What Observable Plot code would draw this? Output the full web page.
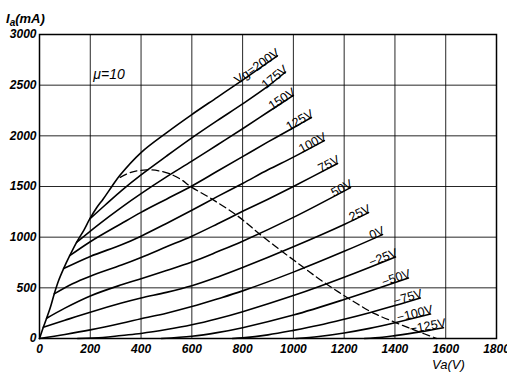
<!DOCTYPE html>
<html><head><meta charset="utf-8">
<script src="https://cdn.jsdelivr.net/npm/d3@7"></script>
<script src="https://cdn.jsdelivr.net/npm/@observablehq/plot@0.6"></script>
<style>body{margin:0;background:#fff}</style>
</head><body><div id="chart"></div>
<script>
// Axis ticks
const xTicks = [0,200,400,600,800,1000,1200,1400,1600,1800];
const yTicks = [0,500,1000,1500,2000,2500,3000];

// Anode characteristics: [Va (V), Ia (mA)]
const vg200 = [[0,0],[6,45],[15,110],[28,200],[42,300],[58,440],[75,570],[95,690],[119,817],[146,949],[175,1070],[198,1180],[225,1290],[251,1377],[285,1500],[316,1608],[400,1835],[500,2030],[600,2210],[700,2380],[800,2550],[937,2790]];
const vg175 = [[198,1180],[260,1320],[323,1460],[400,1615],[500,1800],[600,1980],[700,2150],[800,2315],[900,2490],[969,2630]];
const vg150 = [[146,949],[230,1120],[323,1295],[400,1430],[500,1595],[600,1750],[700,1910],[800,2070],[900,2235],[1000,2400]];
const vg125 = [[119,817],[200,955],[323,1135],[400,1245],[500,1375],[600,1505],[700,1650],[800,1795],[900,1940],[1000,2080],[1071,2181]];
const vg100 = [[95,690],[200,810],[323,925],[400,1010],[500,1135],[600,1265],[700,1400],[800,1530],[900,1665],[1000,1790],[1122,1953]];
const vg75  = [[58,440],[130,540],[200,615],[323,725],[400,800],[500,905],[600,1010],[700,1130],[800,1255],[900,1375],[1000,1500],[1174,1727]];
const vg50  = [[28,200],[100,300],[200,420],[323,530],[400,590],[500,670],[600,755],[700,855],[800,960],[1000,1195],[1225,1489]];
const vg25  = [[15,110],[100,180],[200,260],[323,350],[400,400],[500,455],[600,520],[700,605],[800,700],[1000,905],[1200,1125],[1296,1242]];
const vg0   = [[0,0],[100,40],[200,85],[323,150],[400,195],[500,250],[600,315],[700,390],[800,470],[1000,655],[1200,860],[1351,1025]];
const vgm25 = [[150,0],[250,10],[323,30],[400,50],[500,88],[600,135],[700,195],[800,265],[1000,424],[1200,605],[1402,805]];
const vgm50 = [[480,0],[600,22],[700,58],[800,107],[1000,231],[1200,385],[1453,597]];
const vgm75 = [[760,0],[800,6],[900,36],[1000,80],[1100,130],[1200,190],[1300,255],[1400,325],[1500,400]];
const vgm100 = [[1010,0],[1100,20],[1200,55],[1300,100],[1400,155],[1540,241]];
const vgm125 = [[1280,0],[1350,12],[1400,28],[1500,65],[1591,106]];

// Dashed limit curve
const limitCurve = [[318,1590],[360,1640],[421,1664],[470,1655],[513,1625],[560,1565],[595,1500],[680,1375],[780,1210],[870,1025],[950,870],[1030,720],[1100,590],[1180,455],[1250,345],[1320,245],[1400,160],[1480,80],[1565,0]];

const curveLabels = ["Vg=200V","175V","150V","125V","100V","75V","50V","25V","0V","\u221225V","\u221250V","\u221275V","\u2212100V","\u2212125V"];
const curveSeries = [vg200,vg175,vg150,vg125,vg100,vg75,vg50,vg25,vg0,vgm25,vgm50,vgm75,vgm100,vgm125];
const muNote = {text:"\u03bc=10", va:212, ia:2610};

const W = 507, H = 376, mL = 39, mR = 11, mT = 34, mB = 38;
const kx = (W - mL - mR) / 1800, ky = (H - mT - mB) / 3000;

const lineData = curveSeries.flatMap((pts, i) => pts.map(([va, ia]) => ({vg: curveLabels[i], va, ia})));
const dashData = limitCurve.map(([va, ia]) => ({va, ia}));
const labelData = curveSeries.map((pts, i) => {
  const n = pts.length;
  const [x1, y1] = pts[n - 2], [x2, y2] = pts[n - 1];
  const ang = -Math.atan2((y2 - y1) * ky, (x2 - x1) * kx) * 180 / Math.PI;
  return {text: curveLabels[i], va: x2, ia: y2, ang};
});

const chart = Plot.plot({
  width: W, height: H,
  marginLeft: mL, marginRight: mR, marginTop: mT, marginBottom: mB,
  x: {domain: [0, 1800]},
  y: {domain: [0, 3000]},
  style: {fontFamily: "Liberation Sans, Arial, sans-serif", fontSize: "12px", background: "#fff", color: "#000", overflow: "visible"},
  marks: [
    Plot.gridX(xTicks, {stroke: "#000", strokeOpacity: 0.85, strokeWidth: 1}),
    Plot.gridY(yTicks, {stroke: "#000", strokeOpacity: 0.85, strokeWidth: 1}),
    Plot.frame({stroke: "#000", strokeWidth: 1.5}),
    Plot.axisX(xTicks, {tickSize: 0, tickPadding: 6, tickFormat: d3.format("d"), fontStyle: "italic", fontWeight: "bold", fontSize: 12, label: null}),
    Plot.axisY(yTicks, {tickSize: 0, tickPadding: 3, tickFormat: d3.format("d"), fontStyle: "italic", fontWeight: "bold", fontSize: 12, label: null}),
    Plot.line(lineData, {x: "va", y: "ia", z: "vg", stroke: "#000", strokeWidth: 1.6, curve: "catmull-rom"}),
    Plot.line(dashData, {x: "va", y: "ia", stroke: "#000", strokeWidth: 1.3, strokeDasharray: "7,4", curve: "catmull-rom"}),
    Plot.text(labelData, {x: "va", y: "ia", text: "text", rotate: "ang", textAnchor: "end", lineAnchor: "bottom", dx: 3, dy: -1, fontSize: 12.5, fill: "#000"}),
    Plot.text([muNote], {x: "va", y: "ia", text: "text", textAnchor: "start", fontSize: 14, fontStyle: "italic", fill: "#000"})
  ]
});

const svg = d3.select(chart);
const t1 = svg.append("text").attr("x", 6).attr("y", 23).attr("text-anchor", "start")
  .attr("font-family", "Liberation Sans, Arial, sans-serif").attr("font-size", 13)
  .attr("font-style", "italic").attr("font-weight", "bold").attr("fill", "#000");
t1.append("tspan").text("I");
t1.append("tspan").attr("font-size", 10).attr("dy", 3).text("a");
t1.append("tspan").attr("dy", -3).text("(mA)");
const t2 = svg.append("text").attr("x", 432).attr("y", 369).attr("text-anchor", "start")
  .attr("font-family", "Liberation Sans, Arial, sans-serif").attr("font-size", 13)
  .attr("font-style", "italic").attr("fill", "#000");
t2.append("tspan").text("Va(V)");

document.getElementById("chart").append(chart);
</script>
</body></html>
